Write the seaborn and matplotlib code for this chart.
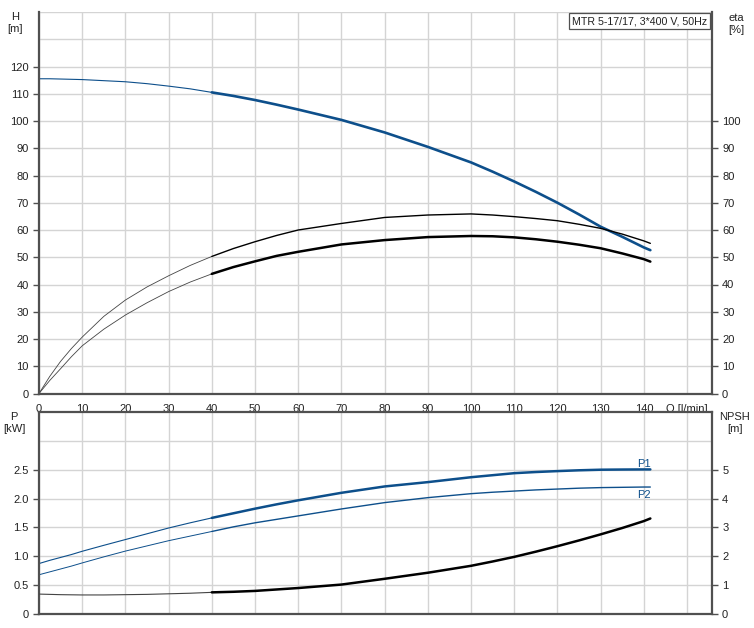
import matplotlib
matplotlib.use("Agg")
import matplotlib.pyplot as plt
import seaborn as sns
import numpy as np
import pandas as pd

# ---------------- data ----------------
q_flow = [0, 2.5, 5, 7.5, 10, 15, 20, 25, 30, 35, 40, 45, 50, 55, 60, 70, 80, 90, 100,
          105, 110, 115, 120, 125, 130, 135, 140, 141.5]
head_m = [115.5, 115.5, 115.4, 115.3, 115.2, 114.8, 114.4, 113.7, 112.8, 111.8, 110.5, 109.2,
          107.7, 106.0, 104.2, 100.4, 95.8, 90.5, 84.8, 81.4, 77.8, 74.0, 70.0, 65.7,
          61.2, 57.5, 53.6, 52.6]
eta_pump = [0, 6.3, 11.8, 16.5, 20.7, 28.3, 34.3, 39.1, 43.2, 47.0, 50.3, 53.2, 55.7, 58.0,
            60.0, 62.4, 64.6, 65.5, 65.9, 65.5, 64.9, 64.2, 63.4, 62.1, 60.6, 58.5, 56.0, 55.1]
eta_total = [0, 4.8, 9.1, 13.5, 17.5, 23.6, 28.8, 33.3, 37.4, 40.9, 43.9, 46.4, 48.5, 50.5,
             52.0, 54.7, 56.3, 57.4, 57.8, 57.7, 57.3, 56.6, 55.7, 54.6, 53.3, 51.4, 49.3, 48.4]
p1_kw = [0.874, 0.93, 0.98, 1.03, 1.087, 1.19, 1.29, 1.39, 1.49, 1.58, 1.665, 1.745, 1.825,
         1.90, 1.97, 2.10, 2.21, 2.285, 2.37, 2.405, 2.44, 2.46, 2.476, 2.49, 2.50, 2.503,
         2.505, 2.505]
p2_kw = [0.68, 0.73, 0.78, 0.83, 0.885, 0.99, 1.09, 1.18, 1.27, 1.35, 1.43, 1.51, 1.58, 1.64,
         1.70, 1.82, 1.93, 2.016, 2.085, 2.11, 2.13, 2.15, 2.165, 2.18, 2.19, 2.195, 2.20, 2.20]
npsh_m = [0.69, 0.68, 0.67, 0.665, 0.66, 0.66, 0.67, 0.68, 0.70, 0.72, 0.75, 0.77, 0.80,
          0.85, 0.90, 1.02, 1.22, 1.43, 1.67, 1.82, 1.98, 2.16, 2.35, 2.55, 2.76, 2.98,
          3.22, 3.31]

h_ticks = list(range(0, 121, 10))
eta_ticks = list(range(0, 101, 10))
q_ticks = list(range(0, 151, 10))
q_tick_labels = [str(v) for v in range(0, 141, 10)] + ["Q [l/min]"]
p_ticks = [0, 0.5, 1.0, 1.5, 2.0, 2.5]
p_tick_labels = ["0", "0.5", "1.0", "1.5", "2.0", "2.5"]
npsh_ticks = [0, 1, 2, 3, 4, 5]
title_text = "MTR 5-17/17, 3*400 V, 50Hz"
split_q = 40  # thin curve before, thick after

df = pd.DataFrame({"Q": q_flow, "H": head_m, "eta1": eta_pump, "eta2": eta_total,
                   "P1": p1_kw, "P2": p2_kw, "NPSH": npsh_m})
lo = df[df["Q"] <= split_q]
hi = df[df["Q"] >= split_q]

# ---------------- style ----------------
sns.set_theme(style="white")
plt.rcParams["font.family"] = ["Liberation Sans", "DejaVu Sans"]
plt.rcParams["font.size"] = 8

BLUE = "#0d4f8b"
GRID = "#d4d4d4"
SPINE = "#505050"
W, H = 754, 628

fig = plt.figure(figsize=(W / 100, H / 100), dpi=100)
L, R = 39, 711.7
ax1 = fig.add_axes([L / W, 1 - 393.5 / H, (R - L) / W, (393.5 - 12) / H])
ax2 = fig.add_axes([L / W, 1 - 614 / H, (R - L) / W, (614 - 412) / H])


def style_axes(ax):
    ax.set_facecolor("white")
    for s in ax.spines.values():
        s.set_color(SPINE)
        s.set_linewidth(1.6)
    ax.grid(True, which="both", color=GRID, linewidth=1.0)
    ax.set_axisbelow(True)
    ax.tick_params(which="both", colors="#222222", labelsize=8, direction="out")
    ax.tick_params(which="major", length=4, width=1, color=SPINE)
    ax.tick_params(which="minor", length=0)


# ---------------- top panel: H and eta ----------------
style_axes(ax1)
ax1.spines["top"].set_visible(False)
ax1.set_xlim(0, 155.7)
ax1.set_ylim(0, 140)
ax1.set_yticks(h_ticks)
ax1.set_yticks([130, 140], minor=True)
ax1.set_xticks(q_ticks)
ax1.set_xticklabels(q_tick_labels)

sns.lineplot(data=lo, x="Q", y="H", ax=ax1, color=BLUE, lw=0.8, sort=False)
sns.lineplot(data=hi, x="Q", y="H", ax=ax1, color=BLUE, lw=1.9, sort=False)
sns.lineplot(data=lo, x="Q", y="eta1", ax=ax1, color="#444444", lw=0.6, sort=False)
sns.lineplot(data=hi, x="Q", y="eta1", ax=ax1, color="black", lw=1.0, sort=False)
sns.lineplot(data=lo, x="Q", y="eta2", ax=ax1, color="#444444", lw=0.6, sort=False)
sns.lineplot(data=hi, x="Q", y="eta2", ax=ax1, color="black", lw=1.8, sort=False)
ax1.set_xlabel("")
ax1.set_ylabel("")

ax1r = ax1.twinx()
ax1r.set_ylim(0, 140)
ax1r.set_yticks(eta_ticks)
ax1r.grid(False)
for s in ax1r.spines.values():
    s.set_visible(False)
ax1r.tick_params(axis="y", labelsize=8, colors="#222222", length=4, width=1,
                 color=SPINE, direction="out")
ax1r.set_ylabel("")

ax1.annotate(title_text, xy=(1, 1), xycoords="axes fraction", xytext=(-3.5, -3.0),
             textcoords="offset points", ha="right", va="top", fontsize=7.7, color="#222222",
             bbox=dict(boxstyle="square,pad=0.25", fc="white", ec=SPINE, lw=0.9))

# ---------------- bottom panel: P and NPSH ----------------
style_axes(ax2)
ax2.set_xlim(0, 155.7)
ax2.set_ylim(0, 3.5)
ax2.set_xticks(q_ticks)
ax2.set_xticklabels([])
ax2.tick_params(axis="x", length=0)
ax2.set_yticks(p_ticks)
ax2.set_yticklabels(p_tick_labels)
ax2.set_yticks([3.0], minor=True)

sns.lineplot(data=lo, x="Q", y="P1", ax=ax2, color=BLUE, lw=0.8, sort=False)
sns.lineplot(data=hi, x="Q", y="P1", ax=ax2, color=BLUE, lw=1.8, sort=False)
sns.lineplot(data=lo, x="Q", y="P2", ax=ax2, color=BLUE, lw=0.7, sort=False)
sns.lineplot(data=hi, x="Q", y="P2", ax=ax2, color=BLUE, lw=1.0, sort=False)
ax2.set_xlabel("")
ax2.set_ylabel("")

ax2r = ax2.twinx()
ax2r.set_ylim(0, 7)
ax2r.set_yticks(npsh_ticks)
ax2r.grid(False)
for s in ax2r.spines.values():
    s.set_visible(False)
ax2r.tick_params(axis="y", labelsize=8, colors="#222222", length=4, width=1,
                 color=SPINE, direction="out")
sns.lineplot(data=lo, x="Q", y="NPSH", ax=ax2r, color="#444444", lw=0.8, sort=False)
sns.lineplot(data=hi, x="Q", y="NPSH", ax=ax2r, color="black", lw=1.8, sort=False)
ax2r.set_xlabel("")
ax2r.set_ylabel("")

ax2.text(hi["Q"].iloc[-1] - 1.5, hi["P1"].iloc[-1] + 0.1, "P1", color=BLUE, fontsize=8,
         ha="center", va="center")
ax2.text(hi["Q"].iloc[-1] - 1.5, hi["P2"].iloc[-1] - 0.13, "P2", color=BLUE, fontsize=8,
         ha="center", va="center")

# ---------------- axis titles ----------------
fig.text(15 / W, 1 - 23 / H, "H\n[m]", ha="center", va="center", fontsize=8,
         color="#222222", linespacing=1.3)
fig.text(736 / W, 1 - 24 / H, "eta\n[%]", ha="center", va="center", fontsize=8,
         color="#222222", linespacing=1.3)
fig.text(14 / W, 1 - 423 / H, "P\n[kW]", ha="center", va="center", fontsize=8,
         color="#222222", linespacing=1.3)
fig.text(735 / W, 1 - 423 / H, "NPSH\n[m]", ha="center", va="center", fontsize=8,
         color="#222222", linespacing=1.3)

fig.savefig("out.png", dpi=100, facecolor="white")
